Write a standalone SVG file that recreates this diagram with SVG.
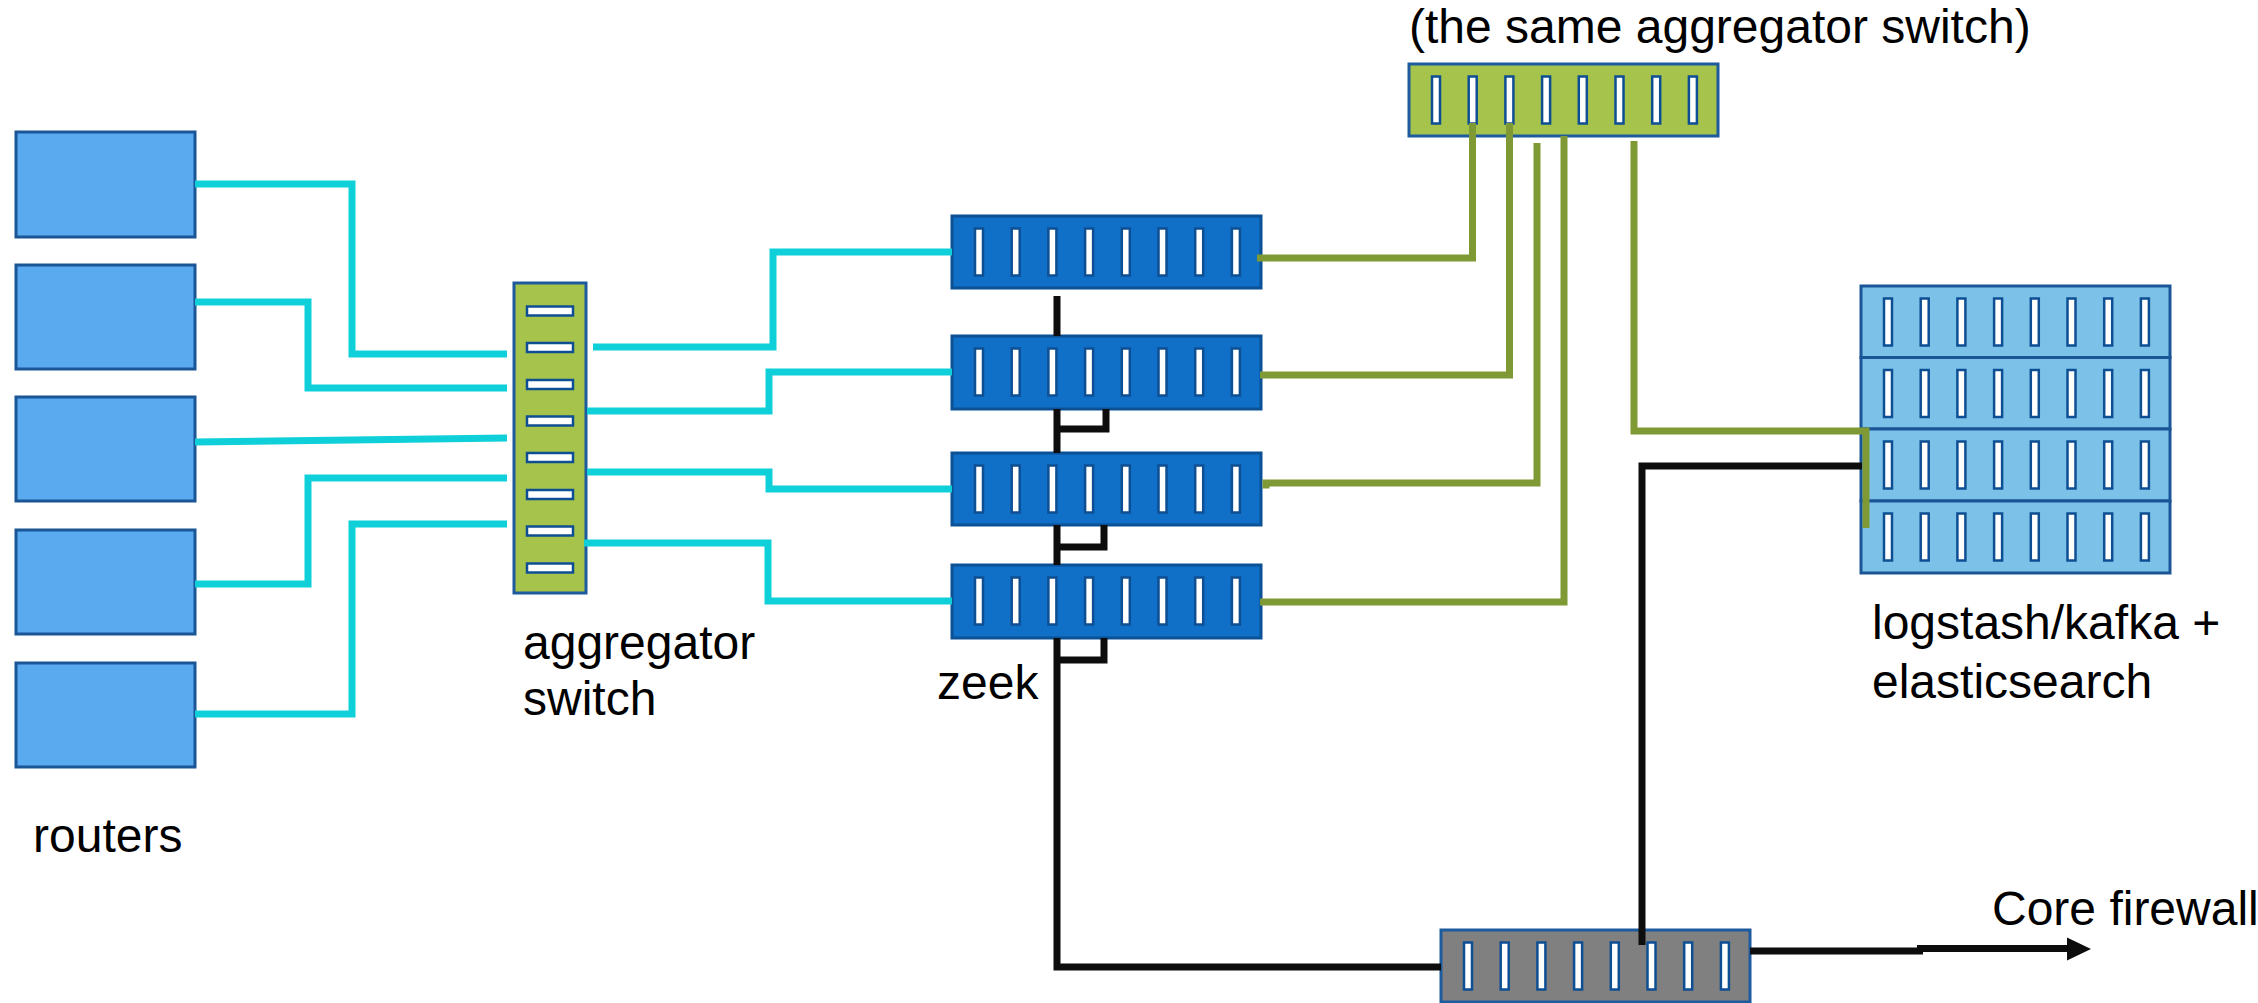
<svg xmlns="http://www.w3.org/2000/svg" xmlns:xlink="http://www.w3.org/1999/xlink" width="2258" height="1003" viewBox="0 0 2258 1003">
  <style>
    .label { font-family: "Liberation Sans", Arial, sans-serif; font-size: 48px; fill: #000; }
    .router { fill: #5aaaf0; stroke: #1a5596; stroke-width: 3; }
    .agg { fill: #a6c34c; stroke: #1d5a9e; stroke-width: 3; }
    .zeek { fill: #106fc7; stroke: #0b5196; stroke-width: 3; }
    .es { fill: #7cc2e8; stroke: #1a5596; stroke-width: 3; }
    .fw { fill: #808080; stroke: #1d5a9e; stroke-width: 3; }
    .port { fill: #ffffff; stroke: #0e4f94; stroke-width: 2.5; }
    .cyan { fill: none; stroke: #0fd0d9; stroke-width: 7; }
    .green { fill: none; stroke: #7f9a35; stroke-width: 7; }
    .black { fill: none; stroke: #0d0d0d; stroke-width: 7; }
  </style>
  <defs>
    <!-- eight vertical port slots of a rack switch, relative to the box's top-left corner -->
    <g id="ports8">
      <rect class="port" x="23" y="12.5" width="8" height="47"/>
      <rect class="port" x="59.7" y="12.5" width="8" height="47"/>
      <rect class="port" x="96.4" y="12.5" width="8" height="47"/>
      <rect class="port" x="133.1" y="12.5" width="8" height="47"/>
      <rect class="port" x="169.8" y="12.5" width="8" height="47"/>
      <rect class="port" x="206.5" y="12.5" width="8" height="47"/>
      <rect class="port" x="243.2" y="12.5" width="8" height="47"/>
      <rect class="port" x="279.9" y="12.5" width="8" height="47"/>
    </g>
  </defs>

  <rect width="2258" height="1003" fill="#ffffff"/>

  <!-- routers -->
  <g id="routers">
    <rect class="router" x="16" y="132" width="179" height="105"/>
    <rect class="router" x="16" y="265" width="179" height="104"/>
    <rect class="router" x="16" y="397" width="179" height="104"/>
    <rect class="router" x="16" y="530" width="179" height="104"/>
    <rect class="router" x="16" y="663" width="179" height="104"/>
    <text class="label" x="33" y="852">routers</text>
  </g>

  <!-- aggregator switch (vertical) -->
  <g id="aggregator-switch">
    <rect class="agg" x="514" y="283" width="72" height="310"/>
    <rect class="port" x="527" y="306.5" width="46" height="9"/>
    <rect class="port" x="527" y="343" width="46" height="9"/>
    <rect class="port" x="527" y="380" width="46" height="9"/>
    <rect class="port" x="527" y="416.5" width="46" height="9"/>
    <rect class="port" x="527" y="453" width="46" height="9"/>
    <rect class="port" x="527" y="490" width="46" height="9"/>
    <rect class="port" x="527" y="526.5" width="46" height="9"/>
    <rect class="port" x="527" y="563.5" width="46" height="9"/>
    <text class="label" x="523" y="659">aggregator</text>
    <text class="label" x="523" y="715">switch</text>
  </g>

  <!-- zeek sensors -->
  <g id="zeek-1">
    <rect class="zeek" x="952" y="216" width="309" height="72"/>
    <use xlink:href="#ports8" x="952" y="216"/>
  </g>
  <g id="zeek-2">
    <rect class="zeek" x="952" y="336" width="309" height="73"/>
    <use xlink:href="#ports8" x="952" y="336"/>
  </g>
  <g id="zeek-3">
    <rect class="zeek" x="952" y="453" width="309" height="72"/>
    <use xlink:href="#ports8" x="952" y="453"/>
  </g>
  <g id="zeek-4">
    <rect class="zeek" x="952" y="565" width="309" height="73"/>
    <use xlink:href="#ports8" x="952" y="565"/>
  </g>
  <text id="zeek-label" class="label" x="937" y="699">zeek</text>

  <!-- aggregator switch again, shown at the top -->
  <g id="aggregator-switch-top">
    <text class="label" x="1409" y="43">(the same aggregator switch)</text>
    <rect class="agg" x="1409" y="64" width="309" height="72"/>
    <use xlink:href="#ports8" x="1409" y="64"/>
  </g>

  <!-- logstash / kafka + elasticsearch cluster -->
  <g id="elastic-cluster">
    <rect class="es" x="1861" y="286" width="309" height="71.5"/>
    <rect class="es" x="1861" y="357.5" width="309" height="71.5"/>
    <rect class="es" x="1861" y="429" width="309" height="72"/>
    <rect class="es" x="1861" y="501" width="309" height="72"/>
    <use xlink:href="#ports8" x="1861" y="286"/>
    <use xlink:href="#ports8" x="1861" y="357.5"/>
    <use xlink:href="#ports8" x="1861" y="429"/>
    <use xlink:href="#ports8" x="1861" y="501"/>
    <text class="label" x="1872" y="639">logstash/kafka +</text>
    <text class="label" x="1872" y="698">elasticsearch</text>
  </g>

  <!-- firewall-side switch -->
  <g id="core-switch">
    <rect class="fw" x="1441" y="930" width="309" height="72"/>
    <use xlink:href="#ports8" x="1441" y="930"/>
  </g>
  <text id="core-firewall-label" class="label" x="1992" y="925">Core firewall</text>

  <!-- connectors -->
  <g id="connectors">
    <!-- routers to aggregator -->
    <path class="cyan" d="M195,184 H352 V354 H507"/>
    <path class="cyan" d="M195,302 H308 V388 H507"/>
    <path class="cyan" d="M195,442 L507,438"/>
    <path class="cyan" d="M195,584 H308 V478 H507"/>
    <path class="cyan" d="M195,714 H352 V524 H507"/>
    <!-- aggregator to zeek sensors -->
    <path class="cyan" d="M593,347 H773 V252 H952"/>
    <path class="cyan" d="M587,411 H769 V372 H952"/>
    <path class="cyan" d="M587,472 H769 V489 H952"/>
    <path class="cyan" d="M584,543 H768 V601 H952"/>

    <!-- zeek outputs back to the aggregator, and on to the cluster -->
    <path class="green" d="M1257,258 H1472.5 V123"/>
    <path class="green" d="M1260,375 H1509.5 V123"/>
    <path class="green" d="M1266,488.5 V483 H1537 V143"/>
    <path class="green" d="M1260,602 H1564 V136"/>
    <path class="green" d="M1634,141 V431 H1866 V528"/>

    <!-- zeek chain down to the core switch -->
    <path class="black" d="M1057,296 V336"/>
    <path class="black" d="M1106,409 V429 H1057 M1057,409 V453"/>
    <path class="black" d="M1104,525 V547 H1057 M1057,525 V565"/>
    <path class="black" d="M1104,638 V660 H1057 M1057,638 V967 H1441"/>
    <!-- core switch to the cluster -->
    <path class="black" d="M1642,945 V466 H1862"/>
    <!-- core switch out to the firewall -->
    <path class="black" d="M1750,951 H1923"/>
    <path class="black" d="M1917,948.5 H2070"/>
    <polygon points="2067,937.5 2091,949 2067,960.5" fill="#0d0d0d"/>
  </g>
</svg>
